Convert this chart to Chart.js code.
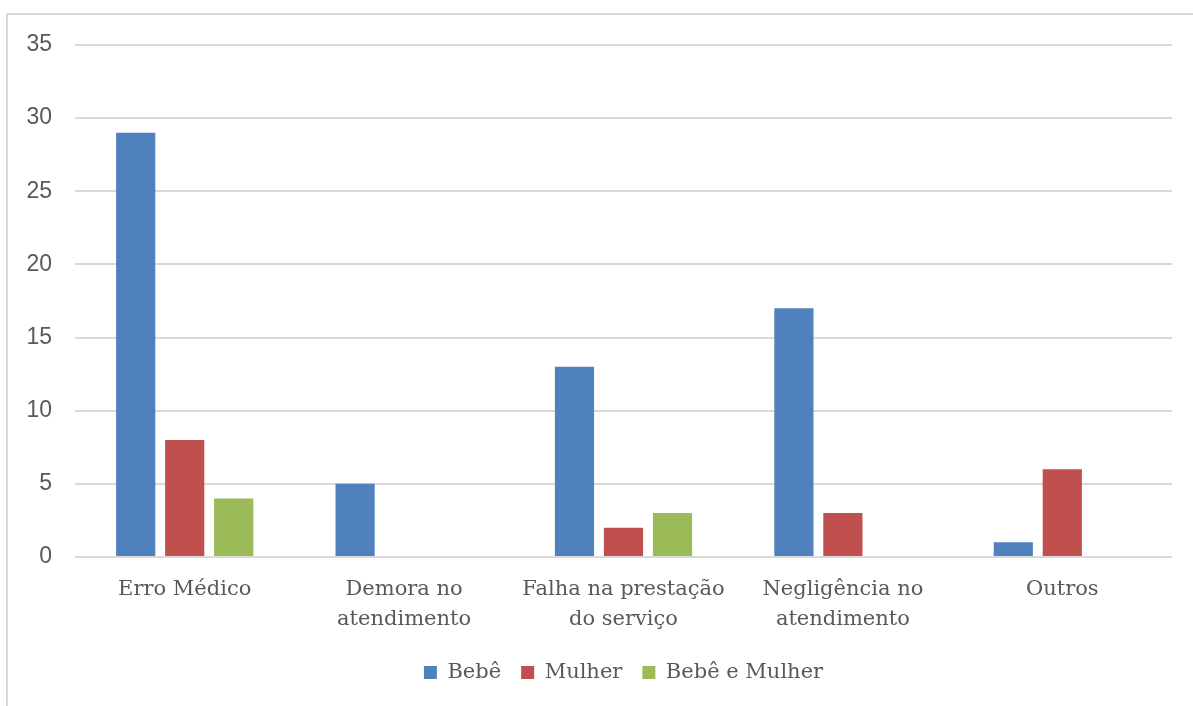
<!DOCTYPE html>
<html lang="pt">
<head>
<meta charset="UTF-8">
<title>Chart</title>
<script src="https://cdn.jsdelivr.net/npm/chart.js@4"></script>
<style>
  body { margin: 0; background: #fff; }
  .frame { position: absolute; left: 6px; top: 13px; width: 1200px; height: 700px; border: 2px solid #d9d9d9; box-sizing: border-box; }
  .wrap { position: absolute; left: 0; top: 0; width: 1193px; height: 706px; }
</style>
</head>
<body>
<div class="frame"></div>
<div class="wrap"><canvas id="c" width="1193" height="706"></canvas></div>
<script>
const categories = ['Erro Médico', ['Demora no', 'atendimento'], ['Falha na prestação', 'do serviço'], ['Negligência no', 'atendimento'], 'Outros'];
const bebe = [29, 5, 13, 17, 1];
const mulher = [8, 0, 2, 3, 6];
const bebeMulher = [4, 0, 3, 0, 0];

const serif = "'DejaVu Serif', serif";

new Chart(document.getElementById('c'), {
  type: 'bar',
  data: {
    labels: categories,
    datasets: [
      { label: 'Bebê', data: bebe, backgroundColor: '#4f81bd' },
      { label: 'Mulher', data: mulher, backgroundColor: '#c0504d' },
      { label: 'Bebê e Mulher', data: bebeMulher, backgroundColor: '#9bbb59' }
    ]
  },
  options: {
    responsive: false,
    animation: false,
    categoryPercentage: 0.67,
    barPercentage: 0.8,
    layout: { padding: { left: 0, right: 21, top: 45, bottom: 13 } },
    plugins: {
      tooltip: { enabled: false },
      legend: {
        position: 'bottom',
        fullSize: false,
        labels: {
          boxWidth: 13, boxHeight: 13, padding: 20,
          color: '#595959',
          font: { family: serif, size: 21 }
        }
      }
    },
    scales: {
      x: {
        grid: { display: false },
        border: { display: false },
        ticks: { color: '#595959', padding: 10, font: { family: serif, size: 21, lineHeight: 1.4 }, maxRotation: 0 },
        afterFit: s => { s.height = 85; }
      },
      y: {
        min: 0, max: 35,
        grid: { color: '#d9d9d9', lineWidth: 2, drawTicks: false },
        border: { display: false },
        ticks: { stepSize: 5, color: '#595959', padding: 23, font: { family: "'Liberation Sans', sans-serif", size: 23 } },
        afterFit: s => { s.width = 75; }
      }
    }
  }
});
</script>
</body>
</html>
